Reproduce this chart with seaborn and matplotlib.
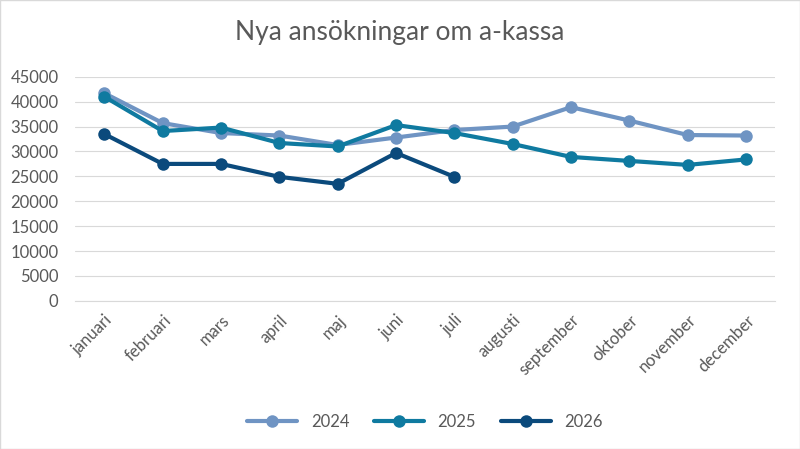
import matplotlib
matplotlib.use("Agg")
import matplotlib.pyplot as plt
import seaborn as sns
import pandas as pd

months = ["januari", "februari", "mars", "april", "maj", "juni", "juli",
          "augusti", "september", "oktober", "november", "december"]
v2024 = [41700, 35700, 33700, 33200, 31300, 32800, 34300, 35000, 38900, 36200, 33300, 33200]
v2025 = [41000, 34100, 34800, 31700, 31000, 35300, 33700, 31500, 28900, 28100, 27300, 28400]
v2026 = [33500, 27500, 27500, 24900, 23500, 29700, 24900]

rows = []
for year, vals in [("2024", v2024), ("2025", v2025), ("2026", v2026)]:
    for m, v in zip(months, vals):
        rows.append({"Månad": m, "Antal": v, "År": year})
df = pd.DataFrame(rows)

sns.set_style("white")
plt.rcParams['font.family'] = ['Lato', 'DejaVu Sans']

fig, ax = plt.subplots(figsize=(8, 4.49), dpi=100)
palette = {"2024": "#6f94c3", "2025": "#0f7aa0", "2026": "#0b4a7c"}
sns.lineplot(data=df, x="Månad", y="Antal", hue="År", palette=palette,
             marker="o", markersize=9, markeredgewidth=0, linewidth=3, sort=False, ax=ax)

ax.set_ylim(0, 45000)
ax.set_yticks(range(0, 45001, 5000))
ax.set_xlim(-0.5, 11.5)
ax.yaxis.grid(True, color="#d9d9d9", linewidth=0.8)
ax.set_xlabel("")
ax.set_ylabel("")
ax.tick_params(colors="#595959", labelsize=12, length=0)
ax.tick_params(axis="y", pad=12)
ax.tick_params(axis="x", pad=8)
plt.setp(ax.get_xticklabels(), rotation=45, ha="right", rotation_mode="anchor")
for s in ["top", "right", "left"]:
    ax.spines[s].set_visible(False)
ax.spines["bottom"].set_color("#d9d9d9")
fig.suptitle("Nya ansökningar om a-kassa", fontsize=19, color="#595959", y=0.955)

ax.legend(loc="center", bbox_to_anchor=(0.5, -0.54), ncol=3, frameon=False,
          fontsize=12, labelcolor="#595959", handlelength=3, columnspacing=1.5)

fig.subplots_adjust(left=0.094, right=0.969, top=0.829, bottom=0.33)
fig.patches.append(plt.Rectangle((0, 0), 1, 1, transform=fig.transFigure,
                                 fill=False, edgecolor="#d9d9d9", linewidth=1))
fig.savefig("out.png", dpi=100)
